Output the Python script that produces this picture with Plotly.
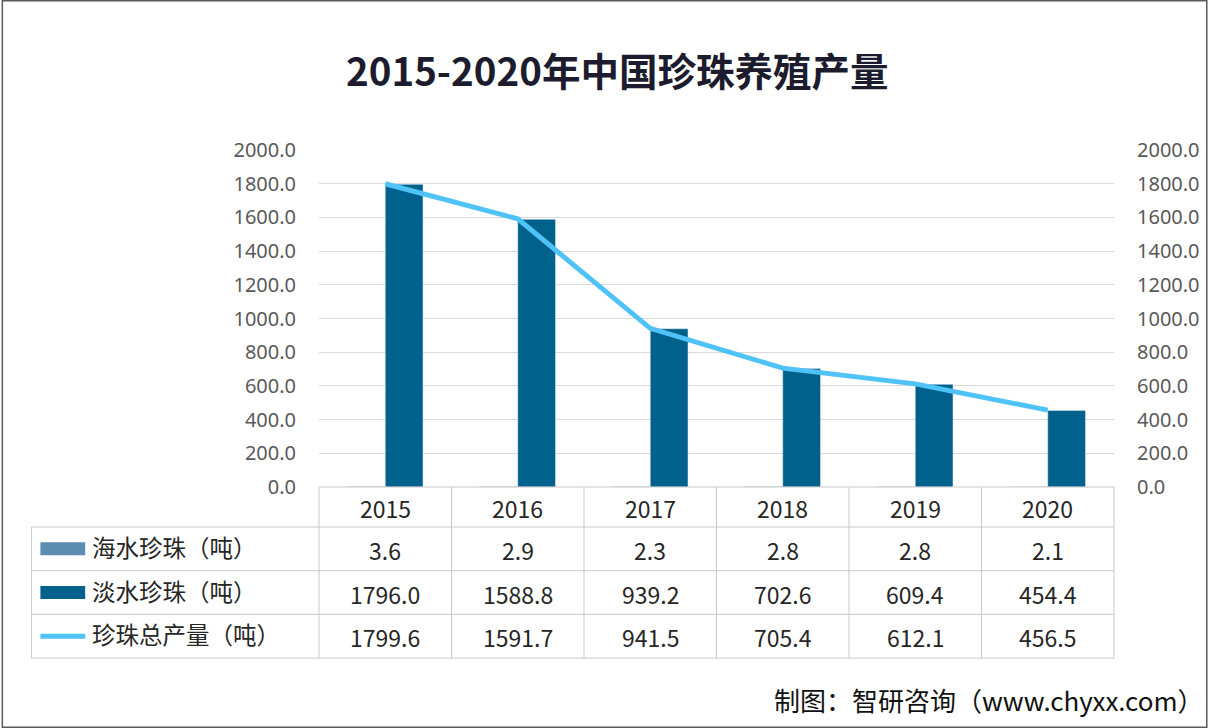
import plotly.graph_objects as go

years = ["2015", "2016", "2017", "2018", "2019", "2020"]
seawater = [3.6, 2.9, 2.3, 2.8, 2.8, 2.1]
freshwater = [1796.0, 1588.8, 939.2, 702.6, 609.4, 454.4]
total = [1799.6, 1591.7, 941.5, 705.4, 612.1, 456.5]
series_names = ["海水珍珠（吨）", "淡水珍珠（吨）", "珍珠总产量（吨）"]
title_text = "2015-2020年中国珍珠养殖产量"
source_text = "制图：智研咨询（www.chyxx.com）"

W, H = 1212, 728
ML, MR, MT, MB = 319, 94, 150, 241
C_SEA = "#5B8DB2"
C_FRESH = "#00618C"
C_TOTAL = "#4FC3F7"
GRID = "#D9D9D9"
BORDER = "#C9C9C9"
FONT = "Noto Sans CJK SC, Noto Sans, sans-serif"

fig = go.Figure()
fig.add_trace(go.Bar(x=years, y=seawater, name=series_names[0], marker_color=C_SEA))
fig.add_trace(go.Bar(x=years, y=freshwater, name=series_names[1], marker_color=C_FRESH))
fig.add_trace(go.Scatter(x=years, y=total, name=series_names[2], mode="lines",
                         line=dict(color=C_TOTAL, width=5)))
fig.add_trace(go.Scatter(x=years, y=total, yaxis="y2", mode="lines",
                         line=dict(width=0), hoverinfo="skip", showlegend=False))

plot_w = W - ML - MR
plot_h = H - MT - MB
n = len(years)
col_w = plot_w / n
table_left = 30
header_top = H - MB
header_h = 40
row_h = 43.7
rows = [seawater, freshwater, total]

shapes = []
annotations = []

def paper_y(py):
    return (H - MB - py) / plot_h

def paper_x(px):
    return (px - ML) / plot_w

line_style = dict(color=BORDER, width=1)
table_bottom = header_top + header_h + row_h * len(rows)
for i in range(n + 1):
    xp = ML + i * col_w
    shapes.append(dict(type="line", xref="paper", yref="paper",
                       x0=paper_x(xp), x1=paper_x(xp),
                       y0=paper_y(header_top), y1=paper_y(table_bottom), line=line_style))
shapes.append(dict(type="line", xref="paper", yref="paper",
                   x0=paper_x(table_left), x1=paper_x(table_left),
                   y0=paper_y(header_top + header_h), y1=paper_y(table_bottom), line=line_style))
shapes.append(dict(type="line", xref="paper", yref="paper",
                   x0=paper_x(ML), x1=paper_x(ML + plot_w),
                   y0=paper_y(header_top), y1=paper_y(header_top), line=line_style))
for r in range(len(rows) + 1):
    yp = header_top + header_h + r * row_h
    shapes.append(dict(type="line", xref="paper", yref="paper",
                       x0=paper_x(table_left), x1=paper_x(ML + plot_w),
                       y0=paper_y(yp), y1=paper_y(yp), line=line_style))

cell_font = dict(size=23, color="#262626", family=FONT)
for i, yr in enumerate(years):
    annotations.append(dict(text=yr, xref="x", yref="paper", x=i,
                            y=paper_y(header_top + header_h / 2 + 1), showarrow=False,
                            xanchor="center", yanchor="middle", font=cell_font))
swatch_colors = [C_SEA, C_FRESH, C_TOTAL]
for r, vals in enumerate(rows):
    cy = header_top + header_h + r * row_h + row_h / 2
    for i, yr in enumerate(years):
        annotations.append(dict(text=f"{vals[i]:.1f}", xref="x", yref="paper", x=i,
                                y=paper_y(cy + 1), showarrow=False,
                                xanchor="center", yanchor="middle", font=cell_font))
    annotations.append(dict(text=series_names[r], xref="paper", yref="paper",
                            x=paper_x(89), y=paper_y(cy - 2), xanchor="left", yanchor="middle",
                            showarrow=False,
                            font=dict(size=23.5, color="#262626", family=FONT)))
    sh = 13 if r < 2 else 5
    shapes.append(dict(type="rect", xref="paper", yref="paper",
                       x0=paper_x(39), x1=paper_x(84),
                       y0=paper_y(cy + sh / 2), y1=paper_y(cy - sh / 2),
                       fillcolor=swatch_colors[r], line=dict(width=0)))

annotations.append(dict(text=title_text, xref="paper", yref="paper",
                        x=paper_x(618), y=paper_y(69), showarrow=False,
                        xanchor="center", yanchor="middle",
                        font=dict(size=38.5, color="#1C1C2E", family=FONT, weight="bold")))
annotations.append(dict(text=source_text, xref="paper", yref="paper",
                        x=paper_x(W - 2), y=paper_y(699), xanchor="right", yanchor="middle",
                        showarrow=False,
                        font=dict(size=26, color="#111111", family=FONT)))

shapes.append(dict(type="rect", xref="paper", yref="paper",
                   x0=paper_x(0.75), x1=paper_x(W - 0.75), y0=paper_y(0.75), y1=paper_y(H - 0.75),
                   line=dict(color="#5A5A5A", width=1.5), fillcolor="rgba(0,0,0,0)"))

axis_font = dict(size=20, color="#595959", family="Noto Sans, sans-serif")
fig.update_layout(
    width=W, height=H, autosize=False,
    margin=dict(l=ML, r=MR, t=MT, b=MB, pad=0),
    paper_bgcolor="white", plot_bgcolor="white",
    showlegend=False,
    barmode="group", bargap=0.43, bargroupgap=0,
    xaxis=dict(type="category", range=[-0.5, n - 0.5], autorange=False,
               showticklabels=False, showgrid=False, zeroline=False,
               showline=False, ticks=""),
    yaxis=dict(range=[0, 2000], dtick=200, tickformat=".1f", gridcolor=GRID, gridwidth=1,
               zeroline=False, showline=False, ticks="", tickfont=axis_font,
               ticklabelstandoff=22),
    yaxis2=dict(range=[0, 2000], dtick=200, tickformat=".1f", overlaying="y", side="right",
                showgrid=False, zeroline=False, showline=False, ticks="", tickfont=axis_font,
                ticklabelstandoff=22),
    shapes=shapes,
    annotations=annotations,
)

fig.write_html(
    "out.html",
    config={"displayModeBar": False, "responsive": False},
    default_width=f"{W}px", default_height=f"{H}px",
    post_script="document.body.style.margin='0px';document.body.style.overflow='hidden';",
)
